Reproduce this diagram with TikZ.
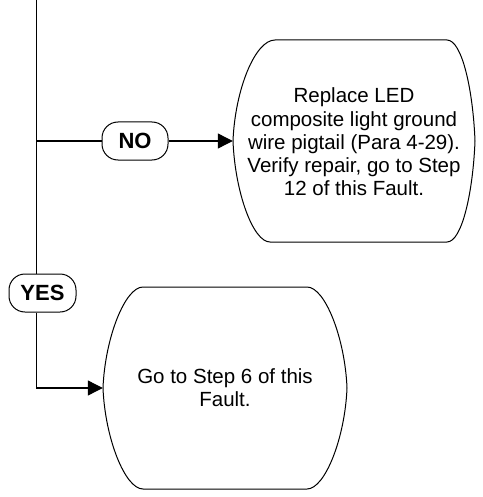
\documentclass[tikz,border=0pt]{standalone}
\usepackage{fontspec}
\setmainfont{Liberation Sans}
\usetikzlibrary{arrows.meta}
\begin{document}
\begin{tikzpicture}[x=1pt,y=-1pt,
  line/.style={line width=1.1pt},
  arr/.style={line, -{Triangle[length=15pt,width=15pt]}},
  tag/.style={draw, line width=1pt, rounded corners=16pt, minimum width=66pt, minimum height=38pt, inner sep=0pt, font=\fontsize{22}{26}\selectfont\bfseries},
  boxtext/.style={inner sep=0pt, align=center, font=\fontsize{20.5}{23.3}\selectfont},
  outline/.style={line width=1pt}]
\useasboundingbox (0,0) rectangle (482,497);
% box outlines
\draw[outline] (275,40) -- (447,40) .. controls (462,40) and (473,90) .. (475,141) .. controls (473,192) and (462,242) .. (447,242) -- (270,242) .. controls (253,242) and (235,192) .. (233,141) .. controls (235,90) and (255,40) .. (275,40) -- cycle;
\draw[outline] (143,287) -- (307,287) .. controls (325,287) and (345,338) .. (347,388) .. controls (345,438) and (325,489) .. (307,489) -- (143,489) .. controls (125,489) and (105,438) .. (103,388) .. controls (105,338) and (125,287) .. (143,287) -- cycle;
% nodes
\node[boxtext, minimum width=242pt, minimum height=202pt] (b1) at (354,142) {Replace LED\\composite light ground\\wire pigtail (Para 4-29).\\Verify repair, go to Step\\12 of this Fault.};
\node[boxtext, minimum width=244pt, minimum height=202pt] (b2) at (225,388) {Go to Step 6 of this\\Fault.};
\node[tag] (no) at (135,141) {NO};
\node[tag, minimum width=67pt] (yes) at (42.5,293) {YES};
\coordinate (top) at (36.5,0);
\coordinate (j) at (36.5,141);
% connectors
\draw[line] (top) -- (top |- yes.north);
\draw[line] (j) -- (no.west);
\draw[arr] (no.east) -- (b1.west |- no.east);
\draw[arr] (yes.south -| top) |- (b2.west);
\end{tikzpicture}
\end{document}
